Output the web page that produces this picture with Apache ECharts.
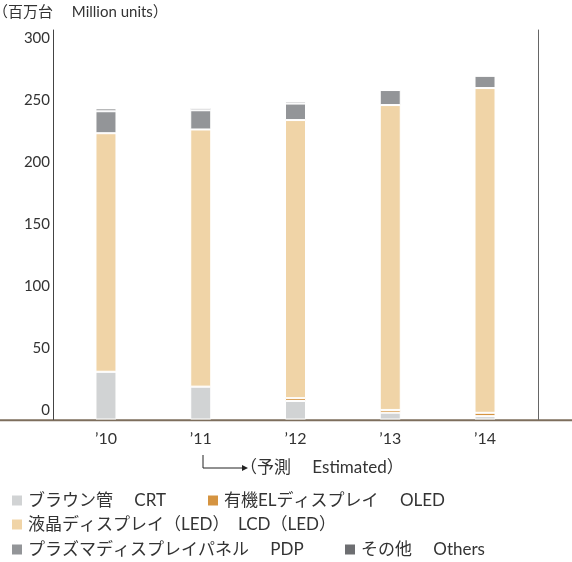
<!DOCTYPE html>
<html>
<head>
<meta charset="utf-8">
<script src="https://cdn.jsdelivr.net/npm/echarts@6/dist/echarts.min.js"></script>
<style>html,body{margin:0;padding:0;background:#fff}#c{width:572px;height:562px}</style>
</head>
<body>
<div id="c"></div>
<script>
const categories = ["’10", "’11", "’12", "’13", "’14"];
const crt    = [38.5, 26.5, 14.9, 5.5, 2.7];
const oled   = [0, 0, 2.3, 2.2, 2.7];
const lcd    = [192.3, 207.3, 224.2, 245.8, 261.8];
const pdp    = [17.7, 15.5, 13.3, 12.1, 9.9];
const others = [2.2, 1.9, 1.6, 0, 0];
const yTicks = [0, 50, 100, 150, 200, 250, 300];
const names = {
  crt: "ブラウン管　 CRT",
  oled: "有機ELディスプレイ　 OLED",
  lcd: "液晶ディスプレイ（LED）　LCD（LED）",
  pdp: "プラズマディスプレイパネル　 PDP",
  others: "その他　 Others"
};
const colors = {crt:"#d1d3d4", oled:"#d59441", lcd:"#f0d4a7", pdp:"#939598", others:"#6d6e71"};
const FONT = "Lato, 'Noto Sans CJK JP', sans-serif";
const TXT = "#333333";

const chart = echarts.init(document.getElementById('c'), null, {renderer:'canvas'});
function bar(key, data){
  return {
    name: names[key], type:'bar', stack:'total', data:data, barWidth:21,
    itemStyle:{color:colors[key], borderColor:'#ffffff', borderWidth:1},
    emphasis:{disabled:true}, animation:false
  };
}
function leg(key, left, top){
  return {
    data:[names[key]], left:left, top:top, padding:0, itemWidth:12, itemHeight:12,
    icon:'rect', itemGap:0, selectedMode:false,
    textStyle:{fontSize:17, color:TXT, fontFamily:FONT}
  };
}
const option = {
  animation:false,
  textStyle:{fontFamily:FONT},
  grid:{left:58.6, right:39.6, top:30, bottom:142.5, containLabel:false},
  xAxis:{
    type:'category', data:categories,
    axisLine:{show:false}, axisTick:{show:false},
    axisLabel:{fontSize:16, color:TXT, margin:11, fontFamily:FONT}
  },
  yAxis:[{
    type:'value', min:0, max:314, offset:5.6,
    axisLine:{show:true, lineStyle:{color:'#444444', width:1}},
    axisTick:{show:false}, splitLine:{show:false},
    axisLabel:{customValues:yTicks, fontSize:15, color:TXT, margin:3, verticalAlign:'bottom', lineHeight:18, fontFamily:FONT}
  },{
    type:'value', min:0, max:314, position:'right', offset:5.6,
    axisLine:{show:true, lineStyle:{color:'#666666', width:1}},
    axisTick:{show:false}, splitLine:{show:false}, axisLabel:{show:false}
  }],
  legend:[
    leg('crt', 10, 492),
    leg('oled', 206, 492),
    leg('lcd', 10, 516),
    leg('pdp', 10, 541),
    leg('others', 343, 541)
  ],
  series:[
    bar('crt', crt), bar('oled', oled), bar('lcd', lcd), bar('pdp', pdp), bar('others', others)
  ],
  graphic:[
    {type:'text', left:-7, top:5, style:{text:'（百万台　 Million units）', fontSize:15, fill:TXT, fontFamily:FONT}},
    {type:'line', shape:{x1:0, y1:420.3, x2:572, y2:420.3}, style:{stroke:'#7d6e5d', lineWidth:2}},
    {type:'polyline', shape:{points:[[203,455],[203,468],[243,468]]}, style:{stroke:'#222', lineWidth:1, fill:null}},
    {type:'polygon', shape:{points:[[242,465],[248,468],[242,471]]}, style:{fill:'#222'}},
    {type:'text', left:240, top:459, style:{text:'（予測　 Estimated）', fontSize:17, fill:TXT, fontFamily:FONT}}
  ]
};
chart.setOption(option);
</script>
</body>
</html>
